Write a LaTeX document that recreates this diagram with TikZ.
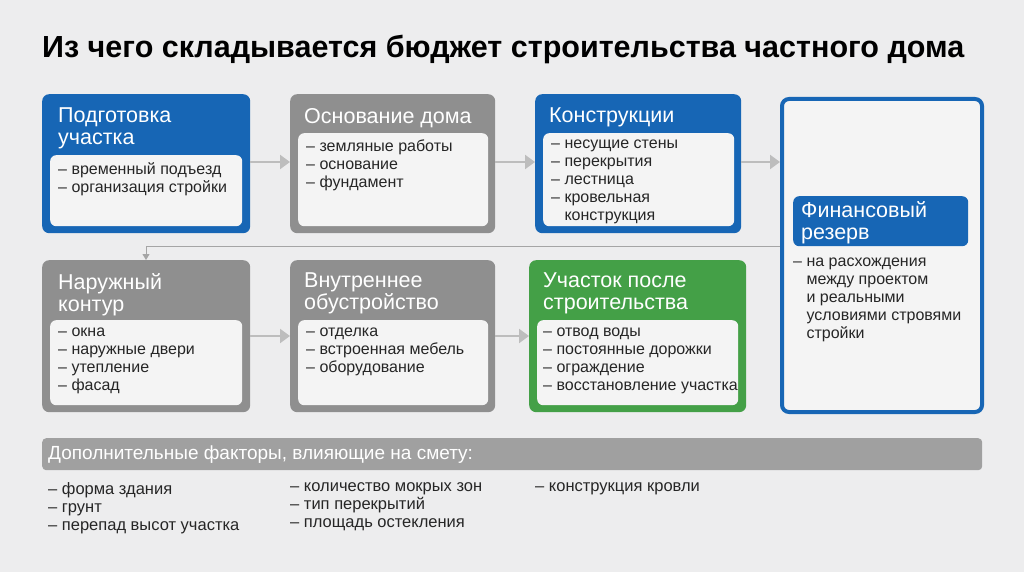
\documentclass[tikz,border=0pt]{standalone}
\usepackage{fontspec}
\setmainfont{Liberation Sans}
\usetikzlibrary{arrows.meta}
\definecolor{bg}{HTML}{EDEDEE}
\definecolor{cblue}{HTML}{1766B5}
\definecolor{cgray}{HTML}{8F8F8F}
\definecolor{cgreen}{HTML}{44A047}
\definecolor{inner}{HTML}{F4F4F4}
\definecolor{arr}{HTML}{BDBDBD}
\begin{document}
\begin{tikzpicture}[x=1pt,y=-1pt,
 card/.style={draw=none,rounded corners=7pt,anchor=north west,inner sep=0pt},
 box/.style={fill=inner,rounded corners=6pt,anchor=north west,inner sep=0pt},
 ttl/.style={anchor=north west,text=white,font=\fontsize{21.5}{22}\selectfont,align=left,inner sep=0pt},
 itm/.style={anchor=north west,text=black!85,font=\fontsize{16}{18}\selectfont,align=left,inner sep=0pt},
 flow/.style={draw=arr,line width=2.2pt,-{Triangle[length=10pt,width=14pt]}},
 back/.style={draw=cgray!80,line width=0.9pt,-{Triangle[length=6pt,width=7pt]}}]
\fill[bg] (0,0) rectangle (1024,572);
\useasboundingbox (0,0) rectangle (1024,572);
\node[anchor=west,inner sep=0pt,font=\fontsize{30.5}{32}\selectfont\bfseries] (title) at (42,49) {Из чего складывается бюджет строительства частного дома};
% row 1
\node[card,fill=cblue,minimum width=208pt,minimum height=139pt] (c1) at (42,94) {};
\node[box,minimum width=192pt,minimum height=71pt] (b1) at (50,155) {};
\node[ttl] (t1) at (58,108) {Подготовка\\участка};
\node[itm] (i1) at (58,162) {– временный подъезд\\– организация стройки};
\node[card,fill=cgray,minimum width=205pt,minimum height=139pt] (c2) at (290,94) {};
\node[box,minimum width=190pt,minimum height=93pt] (b2) at (298,133) {};
\node[ttl] (t2) at (304,108) {Основание дома};
\node[itm] (i2) at (306,140) {– земляные работы\\– основание\\– фундамент};
\node[card,fill=cblue,minimum width=206pt,minimum height=139pt] (c3) at (535,94) {};
\node[box,minimum width=191pt,minimum height=93pt] (b3) at (543,133) {};
\node[ttl] (t3) at (549,108) {Конструкции};
\node[itm] (i3) at (551,140) {– несущие стены\\– перекрытия\\– лестница\\– кровельная\\\phantom{– }конструкция};
% finance
\node[card,draw=cblue,line width=4pt,fill=inner,minimum width=200pt,minimum height=313pt] (c7) at (780,97) {};
\node[card,fill=cblue,rounded corners=6pt,minimum width=175pt,minimum height=50pt] (f7) at (793,196) {};
\node[ttl] (t7) at (801,201) {Финансовый\\резерв};
\node[itm] (i7) at (793,258) {– на расхождения\\\phantom{– }между проектом\\\phantom{– }и реальными\\\phantom{– }условиями стровями\\\phantom{– }стройки};
% row 2
\node[card,fill=cgray,minimum width=208pt,minimum height=152pt] (c4) at (42,260) {};
\node[box,minimum width=192pt,minimum height=85pt] (b4) at (50,320) {};
\node[ttl] (t4) at (58,273) {Наружный\\контур};
\node[itm] (i4) at (58,328) {– окна\\– наружные двери\\– утепление\\– фасад};
\node[card,fill=cgray,minimum width=205pt,minimum height=152pt] (c5) at (290,260) {};
\node[box,minimum width=190pt,minimum height=85pt] (b5) at (298,320) {};
\node[ttl] (t5) at (304,273) {Внутреннее\\обустройство};
\node[itm] (i5) at (306,328) {– отделка\\– встроенная мебель\\– оборудование};
\node[card,fill=cgreen,minimum width=217pt,minimum height=152pt] (c6) at (529,260) {};
\node[box,minimum width=201pt,minimum height=85pt] (b6) at (537,320) {};
\node[ttl] (t6) at (543,273) {Участок после\\строительства};
\node[itm] (i6) at (543,328) {– отвод воды\\– постоянные дорожки\\– ограждение\\– восстановление участка};
% arrows
\draw[flow] (c1.east|-0,162) -- (c2.west|-0,162);
\draw[flow] (c2.east|-0,162) -- (c3.west|-0,162);
\draw[flow] (c3.east|-0,162) -- (c7.west|-0,162);
\draw[flow] (c4.east|-0,336) -- (c5.west|-0,336);
\draw[flow] (c5.east|-0,336) -- (c6.west|-0,336);
\coordinate (k) at (146,246);
\draw[back] (c7.west|-k) -- (k) -- (k|-c4.north);
% bar
\node[card,fill=cgray!85,rounded corners=4pt,minimum width=940pt,minimum height=32pt] (bar) at (42,438) {};
\node[anchor=west,inner sep=0pt,text=white,font=\fontsize{19}{20}\selectfont] (bt) at (48,455) {Дополнительные факторы, влияющие на смету:};
\node[itm,font=\fontsize{16.5}{18}\selectfont] (f1) at (48,482) {– форма здания\\– грунт\\– перепад высот участка};
\node[itm,font=\fontsize{16.5}{18}\selectfont] (f2) at (290,482) {– количество мокрых зон\\– тип перекрытий\\– площадь остекления};
\node[itm,font=\fontsize{16.5}{18}\selectfont] (f3) at (535,482) {– конструкция кровли};
\end{tikzpicture}
\end{document}
